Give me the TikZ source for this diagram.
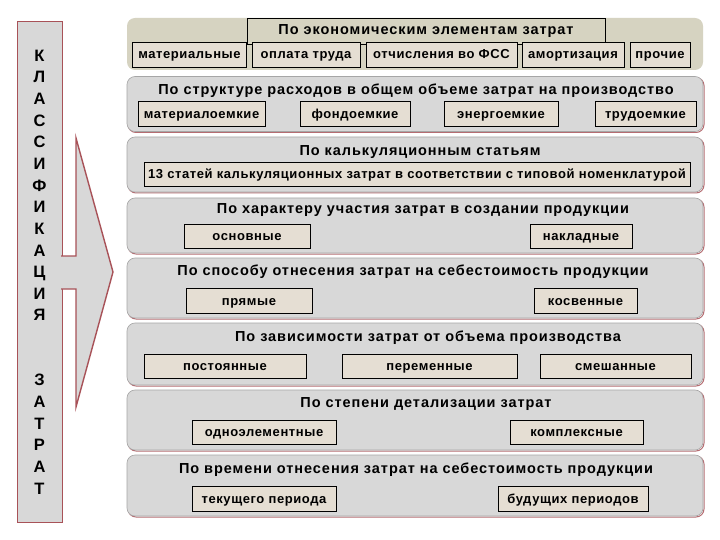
\documentclass[tikz,border=0pt]{standalone}
\usepackage{fontspec}
\setmainfont{Liberation Sans}
\usepackage{xcolor}
\usetikzlibrary{positioning,calc}

\definecolor{panelgray}{RGB}{216,216,216}
\definecolor{khaki}{RGB}{214,211,193}
\definecolor{boxfill}{RGB}{229,222,211}
\definecolor{redline}{RGB}{168,82,88}

\tikzset{
    panel/.style={rounded corners=8pt, fill=panelgray, draw=gray!70, line width=0.6pt,
        preaction={draw=redline!85, line width=1pt, transform canvas={xshift=1pt, yshift=-1pt}}},
    title/.style={font=\fontsize{14.5}{16}\selectfont\bfseries\addfontfeatures{LetterSpace=6.5}, inner sep=0pt},
    item/.style={draw=black, line width=0.7pt, fill=boxfill, inner sep=0pt, text height=10.5pt, text depth=1.5pt,
        font=\fontsize{13}{14}\selectfont\bfseries\addfontfeatures{LetterSpace=4.5}},
}

\begin{document}
\begin{tikzpicture}[x=1pt, y=-1pt]
    \useasboundingbox[fill=white] (0,0) rectangle (720,540);

    % Left side box
    \node[draw=redline, fill=panelgray, line width=1pt, minimum width=45pt, minimum height=500pt,
        inner sep=0pt, align=center, font=\fontsize{16.5}{21.65}\selectfont\bfseries] (side) at (39.5,272)
        {К\\Л\\А\\С\\С\\И\\Ф\\И\\К\\А\\Ц\\И\\Я\\\mbox{}\\\mbox{}\\З\\А\\Т\\Р\\А\\Т};

    % Arrow
    \fill[panelgray] (61,256) -- (76,256) -- (76,138) -- (113,272) -- (76,407) -- (76,289) -- (61,289) -- cycle;
    \draw[redline, line width=1.4pt, line join=miter] (61,256) -- (76,256) -- (76,138) -- (113,272) -- (76,407) -- (76,289) -- (61,289);

    % Economic elements
    \node[rounded corners=8pt, fill=khaki, minimum width=576pt, minimum height=52pt] (p1) at (415,44) {};
    \node[draw=black, line width=0.7pt, fill=khaki, minimum width=358pt, minimum height=26pt, inner sep=0pt] (h1) at (426,31) {};
    \node[title] (t1) at (h1) {По экономическим элементам затрат};
    \node[item, minimum width=114pt, minimum height=25pt] (b11) at (189.5,54.5) {материальные};
    \node[item, minimum width=108pt, minimum height=25pt] (b12) at (306,54.5) {оплата труда};
    \node[item, minimum width=151pt, minimum height=25pt] (b13) at (441.5,54.5) {отчисления во ФСС};
    \node[item, minimum width=102pt, minimum height=25pt] (b14) at (573,54.5) {амортизация};
    \node[item, minimum width=60pt, minimum height=25pt] (b15) at (660,54.5) {прочие};

    % Structure
    \node[panel, minimum width=576pt, minimum height=55pt] (p2) at (415,104) {};
    \node[title] (t2) at (416,91) {По структуре расходов в общем объеме затрат на производство};
    \node[item, minimum width=127pt, minimum height=25pt] (b21) at (201.5,114) {материалоемкие};
    \node[item, minimum width=110pt, minimum height=25pt] (b22) at (355,114) {фондоемкие};
    \node[item, minimum width=114pt, minimum height=25pt] (b23) at (501,114) {энергоемкие};
    \node[item, minimum width=101pt, minimum height=25pt] (b24) at (645.5,114) {трудоемкие};

    % Calculation
    \node[panel, minimum width=576pt, minimum height=55pt] (p3) at (415,164.5) {};
    \node[title] (t3) at (420,152) {По калькуляционным статьям};
    \node[item, minimum width=546pt, minimum height=24pt] (b31) at (417,174) {13 статей калькуляционных затрат в соответствии с типовой номенклатурой};

    % Participation
    \node[panel, minimum width=576pt, minimum height=55pt] (p4) at (415,225.5) {};
    \node[title] (t4) at (423,210) {По характеру участия затрат в создании продукции};
    \node[item, minimum width=126pt, minimum height=24pt] (b41) at (247,236) {основные};
    \node[item, minimum width=102pt, minimum height=24pt] (b42) at (581,236) {накладные};

    % Cost assignment
    \node[panel, minimum width=576pt, minimum height=60pt] (p5) at (415,288) {};
    \node[title] (t5) at (413,272) {По способу отнесения затрат на себестоимость продукции};
    \node[item, minimum width=126pt, minimum height=25pt] (b51) at (249,300.5) {прямые};
    \node[item, minimum width=103pt, minimum height=25pt] (b52) at (585.5,300.5) {косвенные};

    % Volume
    \node[panel, minimum width=576pt, minimum height=62pt] (p6) at (415,354) {};
    \node[title] (t6) at (428,338) {По зависимости затрат от объема производства};
    \node[item, minimum width=162pt, minimum height=24pt] (b61) at (225,366) {постоянные};
    \node[item, minimum width=175pt, minimum height=24pt] (b62) at (429.5,366) {переменные};
    \node[item, minimum width=151pt, minimum height=24pt] (b63) at (615.5,366) {смешанные};

    % Detail
    \node[panel, minimum width=576pt, minimum height=60pt] (p7) at (415,420) {};
    \node[title] (t7) at (426,404) {По степени детализации затрат};
    \node[item, minimum width=144pt, minimum height=24pt] (b71) at (264,432) {одноэлементные};
    \node[item, minimum width=133pt, minimum height=24pt] (b72) at (576.5,432) {комплексные};

    % Period
    \node[panel, minimum width=576pt, minimum height=61pt] (p8) at (415,485.5) {};
    \node[title] (t8) at (416,470) {По времени отнесения затрат на себестоимость продукции};
    \node[item, minimum width=144pt, minimum height=25pt] (b81) at (264,498.5) {текущего периода};
    \node[item, minimum width=150pt, minimum height=25pt] (b82) at (573,498.5) {будущих периодов};
\end{tikzpicture}
\end{document}
